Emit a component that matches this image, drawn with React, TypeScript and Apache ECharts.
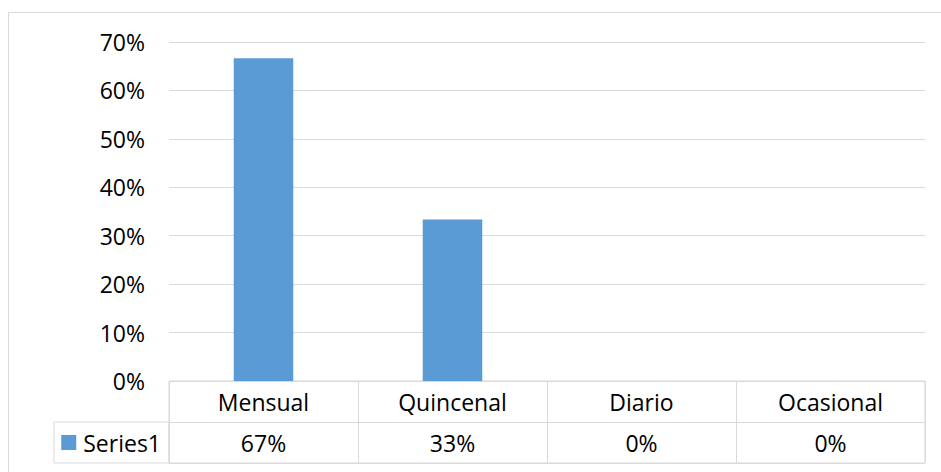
import React, { useEffect, useRef } from "react";
import * as echarts from "echarts";

// Frequency categories and their share of responses
const categories = ["Mensual", "Quincenal", "Diario", "Ocasional"];
const seriesName = "Series1";
const values = [0.6667, 0.3333, 0, 0];

// Value axis range
const yMin = 0;
const yMax = 0.7;
const yInterval = 0.1;

const BAR_COLOR = "#5B9BD5";
const LINE_COLOR = "#D9D9D9";
const TEXT_COLOR = "#000000";
const FONT_FAMILY = '"Open Sans", "Noto Sans", sans-serif';
const FONT_SIZE = 23;

const pct = (v: number) => `${Math.round(v * 100)}%`;

// Table rows: header row holds the categories, second row the formatted values
const tableRows = ["", seriesName];
const cellTexts: string[] = [...categories, ...values.map(pct)];
const cellData: number[][] = [
  ...categories.map((_, i) => [i, 0]),
  ...values.map((_, i) => [i, 1]),
];

export default function App() {
  const ref = useRef<HTMLDivElement>(null);

  useEffect(() => {
    if (!ref.current) return;
    const chart = echarts.init(ref.current, undefined, { renderer: "svg" });

    const option: echarts.EChartsOption = {
      animation: false,
      backgroundColor: "#ffffff",
      textStyle: { fontFamily: FONT_FAMILY, color: TEXT_COLOR },
      graphic: [
        {
          type: "rect",
          silent: true,
          shape: { x: 8.5, y: 12.5, width: 960, height: 480 },
          style: { fill: "none", stroke: LINE_COLOR, lineWidth: 1 },
        },
      ],
      grid: [
        // plot area
        { left: 169, right: 16, top: 42, bottom: 91 },
        // data table (header + values row)
        {
          left: 169,
          right: 16,
          top: 381,
          bottom: 9,
          show: true,
          borderColor: LINE_COLOR,
          borderWidth: 1,
          backgroundColor: "transparent",
        },
        // legend key cell of the values row
        {
          left: 54,
          width: 115,
          top: 422,
          bottom: 9,
          show: true,
          borderColor: LINE_COLOR,
          borderWidth: 1,
          backgroundColor: "transparent",
        },
      ],
      xAxis: [
        {
          type: "category",
          gridIndex: 0,
          data: categories,
          axisLine: { show: false },
          axisTick: { show: false },
          axisLabel: { show: false },
        },
        {
          type: "category",
          gridIndex: 1,
          data: categories,
          axisLine: { show: false },
          axisTick: { show: false },
          axisLabel: { show: false },
          splitLine: {
            show: true,
            interval: 0,
            lineStyle: { color: LINE_COLOR, width: 1 },
          },
        },
        {
          type: "category",
          gridIndex: 2,
          data: [""],
          show: false,
        },
      ],
      yAxis: [
        {
          type: "value",
          gridIndex: 0,
          min: yMin,
          max: yMax,
          interval: yInterval,
          axisLine: { show: false },
          axisTick: { show: false },
          axisLabel: {
            margin: 24,
            fontSize: FONT_SIZE,
            fontFamily: FONT_FAMILY,
            color: TEXT_COLOR,
            formatter: (v: number) => pct(v),
          },
          splitLine: { lineStyle: { color: LINE_COLOR, width: 1 } },
        },
        {
          type: "category",
          gridIndex: 1,
          data: tableRows,
          inverse: true,
          axisLine: { show: false },
          axisTick: { show: false },
          splitLine: {
            show: true,
            interval: 0,
            lineStyle: { color: LINE_COLOR, width: 1 },
          },
          axisLabel: {
            margin: 8,
            interval: 0,
            fontSize: FONT_SIZE,
            fontFamily: FONT_FAMILY,
            color: TEXT_COLOR,
            formatter: (v: string) => (v ? `{sq| }{t|${v}}` : ""),
            rich: {
              sq: {
                width: 15,
                height: 15,
                backgroundColor: BAR_COLOR,
              },
              t: {
                padding: [0, 0, 0, 7],
                fontSize: FONT_SIZE,
                fontFamily: FONT_FAMILY,
                color: TEXT_COLOR,
              },
            },
          },
        },
        {
          type: "category",
          gridIndex: 2,
          data: [""],
          show: false,
        },
      ],
      series: [
        {
          name: seriesName,
          type: "bar",
          xAxisIndex: 0,
          yAxisIndex: 0,
          data: values,
          barWidth: "31.5%",
          itemStyle: { color: BAR_COLOR },
          silent: true,
        },
        {
          type: "custom",
          xAxisIndex: 1,
          yAxisIndex: 1,
          silent: true,
          data: cellData,
          renderItem: (params: any, api: any) => {
            const pt = api.coord([api.value(0), api.value(1)]);
            return {
              type: "text",
              x: pt[0],
              y: pt[1],
              style: {
                text: cellTexts[params.dataIndex],
                fill: TEXT_COLOR,
                font: `${FONT_SIZE}px ${FONT_FAMILY}`,
                fontSize: FONT_SIZE,
                fontFamily: FONT_FAMILY,
                align: "center",
                verticalAlign: "middle",
                textAlign: "center",
                textVerticalAlign: "middle",
              },
            };
          },
        },
      ],
    };

    chart.setOption(option);
    return () => chart.dispose();
  }, []);

  return (
    <div
      ref={ref}
      style={{ position: "fixed", left: 0, top: 0, width: 941, height: 472 }}
    />
  );
}
